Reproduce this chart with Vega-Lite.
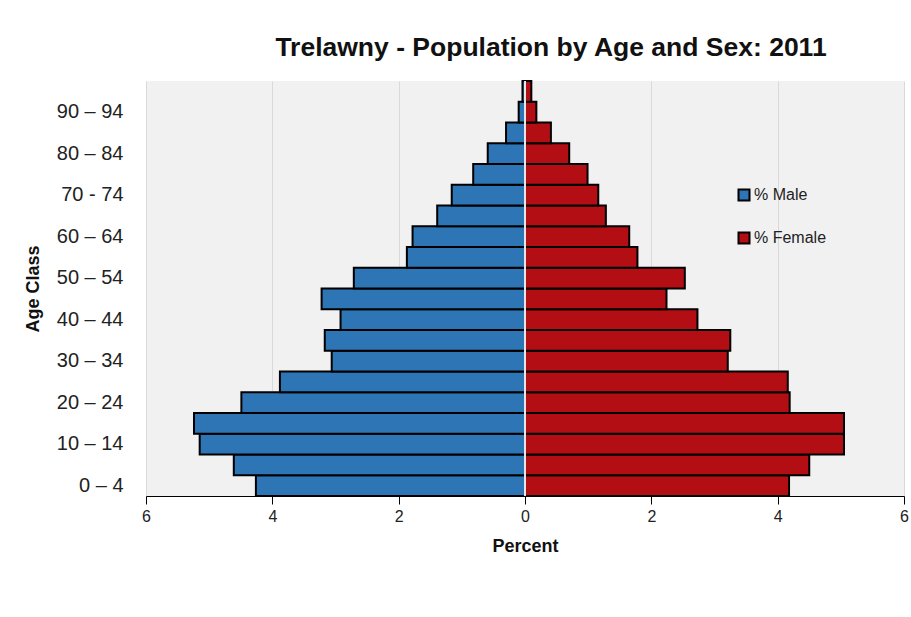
{
  "$schema": "https://vega.github.io/schema/vega-lite/v6.json",
  "width": 758,
  "height": 415,
  "autosize": {"type": "none"},
  "padding": {"left": 146, "top": 81, "right": 7, "bottom": 121},
  "background": "white",
  "title": {
    "text": "Trelawny - Population by Age and Sex: 2011",
    "font": "Liberation Sans, sans-serif",
    "fontSize": 26.5,
    "fontWeight": "bold",
    "color": "#111111",
    "anchor": "middle",
    "dx": 26,
    "offset": 19
  },
  "config": {
    "view": {"fill": "#f1f1f1", "stroke": null},
    "font": "Liberation Sans, sans-serif"
  },
  "data": {
    "values": [
      {"age": "0 – 4", "sex": "% Male", "percent": -4.26},
      {"age": "5 – 9", "sex": "% Male", "percent": -4.61},
      {"age": "10 – 14", "sex": "% Male", "percent": -5.15},
      {"age": "15 – 19", "sex": "% Male", "percent": -5.24},
      {"age": "20 – 24", "sex": "% Male", "percent": -4.49},
      {"age": "25 – 29", "sex": "% Male", "percent": -3.88},
      {"age": "30 – 34", "sex": "% Male", "percent": -3.06},
      {"age": "35 – 39", "sex": "% Male", "percent": -3.17},
      {"age": "40 – 44", "sex": "% Male", "percent": -2.92},
      {"age": "45 – 49", "sex": "% Male", "percent": -3.22},
      {"age": "50 – 54", "sex": "% Male", "percent": -2.71},
      {"age": "55 – 59", "sex": "% Male", "percent": -1.87},
      {"age": "60 – 64", "sex": "% Male", "percent": -1.78},
      {"age": "65 – 69", "sex": "% Male", "percent": -1.39},
      {"age": "70 - 74", "sex": "% Male", "percent": -1.16},
      {"age": "75 – 79", "sex": "% Male", "percent": -0.82},
      {"age": "80 – 84", "sex": "% Male", "percent": -0.59},
      {"age": "85 – 89", "sex": "% Male", "percent": -0.30},
      {"age": "90 – 94", "sex": "% Male", "percent": -0.10},
      {"age": "95+", "sex": "% Male", "percent": -0.04},
      {"age": "0 – 4", "sex": "% Female", "percent": 4.18},
      {"age": "5 – 9", "sex": "% Female", "percent": 4.50},
      {"age": "10 – 14", "sex": "% Female", "percent": 5.05},
      {"age": "15 – 19", "sex": "% Female", "percent": 5.05},
      {"age": "20 – 24", "sex": "% Female", "percent": 4.19},
      {"age": "25 – 29", "sex": "% Female", "percent": 4.16},
      {"age": "30 – 34", "sex": "% Female", "percent": 3.21},
      {"age": "35 – 39", "sex": "% Female", "percent": 3.25},
      {"age": "40 – 44", "sex": "% Female", "percent": 2.73},
      {"age": "45 – 49", "sex": "% Female", "percent": 2.24},
      {"age": "50 – 54", "sex": "% Female", "percent": 2.53},
      {"age": "55 – 59", "sex": "% Female", "percent": 1.78},
      {"age": "60 – 64", "sex": "% Female", "percent": 1.65},
      {"age": "65 – 69", "sex": "% Female", "percent": 1.28},
      {"age": "70 - 74", "sex": "% Female", "percent": 1.16},
      {"age": "75 – 79", "sex": "% Female", "percent": 0.99},
      {"age": "80 – 84", "sex": "% Female", "percent": 0.70},
      {"age": "85 – 89", "sex": "% Female", "percent": 0.41},
      {"age": "90 – 94", "sex": "% Female", "percent": 0.18},
      {"age": "95+", "sex": "% Female", "percent": 0.10}
    ]
  },
  "layer": [
    {
      "mark": {"type": "bar", "stroke": "black", "strokeWidth": 2},
      "encoding": {
        "y": {
          "field": "age",
          "type": "ordinal",
          "sort": ["95+", "90 – 94", "85 – 89", "80 – 84", "75 – 79", "70 - 74", "65 – 69", "60 – 64", "55 – 59", "50 – 54", "45 – 49", "40 – 44", "35 – 39", "30 – 34", "25 – 29", "20 – 24", "15 – 19", "10 – 14", "5 – 9", "0 – 4"],
          "scale": {"paddingInner": 0, "paddingOuter": 0},
          "axis": {
            "title": "Age Class",
            "values": ["90 – 94", "80 – 84", "70 - 74", "60 – 64", "50 – 54", "40 – 44", "30 – 34", "20 – 24", "10 – 14", "0 – 4"],
            "domain": false,
            "ticks": false,
            "labelPadding": 23,
            "labelFontSize": 20,
            "labelColor": "#222222",
            "titleFontSize": 18,
            "titleFontWeight": "bold",
            "titleColor": "#111111",
            "titlePadding": 14
          }
        },
        "x": {
          "field": "percent",
          "type": "quantitative",
          "scale": {"domain": [-6, 6], "nice": false},
          "axis": {
            "title": "Percent",
            "values": [-6, -4, -2, 0, 2, 4, 6],
            "labelExpr": "abs(datum.value)",
            "labelFlush": false,
            "domainColor": "black",
            "tickColor": "black",
            "tickSize": 8,
            "labelFontSize": 16,
            "labelColor": "#222222",
            "labelPadding": 4,
            "grid": true,
            "gridColor": "#d9d9d9",
            "titleFontSize": 18,
            "titleFontWeight": "bold",
            "titleColor": "#111111",
            "titlePadding": 13
          }
        },
        "color": {
          "field": "sex",
          "type": "nominal",
          "scale": {"domain": ["% Male", "% Female"], "range": ["#2e75b6", "#b30e14"]},
          "legend": {
            "title": null,
            "orient": "none",
            "legendX": 590,
            "legendY": 106,
            "symbolType": "square",
            "symbolSize": 121,
            "symbolStrokeColor": "black",
            "symbolStrokeWidth": 2,
            "symbolOpacity": 1,
            "labelFontSize": 16,
            "labelColor": "#222222",
            "labelOffset": 2,
            "rowPadding": 23
          }
        }
      }
    },
    {
      "mark": {"type": "rule", "color": "#e6e6e6", "strokeWidth": 2},
      "encoding": {"x": {"datum": 0}}
    }
  ]
}
